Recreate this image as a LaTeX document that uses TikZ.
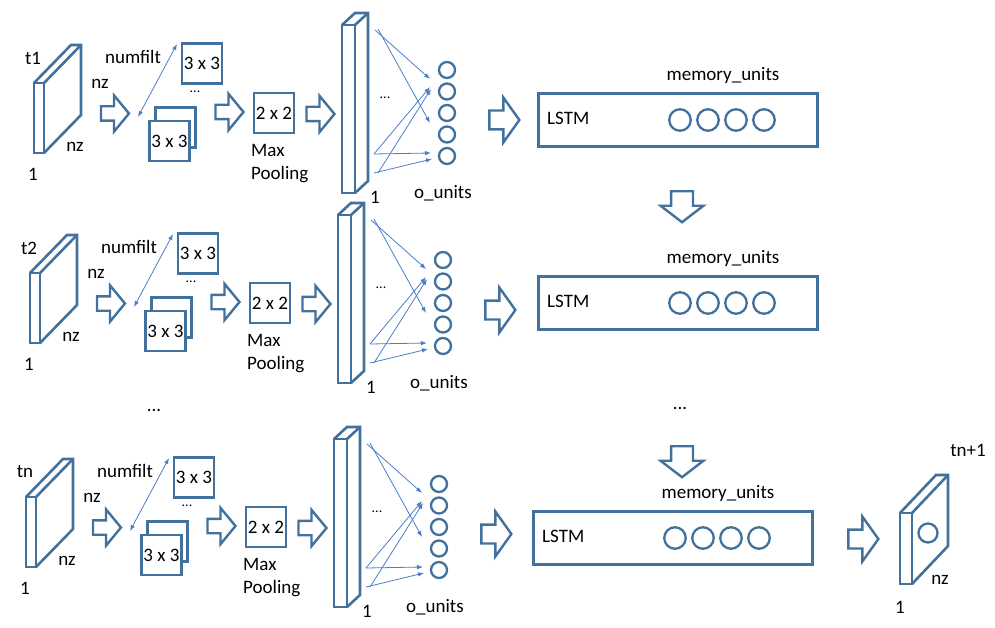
\documentclass[tikz,border=0pt]{standalone}
\usepackage{fontspec}
\setmainfont{Carlito}
\usepackage{tikz}
\usetikzlibrary{shapes.arrows, arrows.meta, positioning}
\definecolor{boxblue}{HTML}{41719C}
\definecolor{linkblue}{HTML}{4A7EC9}
% thin face on the left, deep face going up right
\newcommand{\drawslab}[6]{%
  \draw[slab] (#1,#2) rectangle ++(#3,#4);
  \draw[slab] (#1,#2) -- ++(#5,#6) -- ++(#3,0) -- ++(0,#4) -- ++({-(#5)},{-(#6)});
  \draw[slab] ({#1+#3},#2) -- ++(#5,#6);
}
\tikzset{
  slab/.style={draw=boxblue, line width=2.6pt, line join=miter},
  lbl/.style={font=\fontsize{19}{23}\selectfont, inner sep=0pt},
  tiny/.style={font=\fontsize{14}{16}\selectfont, inner sep=0pt},
  sq/.style={draw=boxblue, line width=2.6pt, fill=white, minimum size=40pt, inner sep=0pt, font=\fontsize{19}{23}\selectfont},
  unit/.style={circle, draw=boxblue, line width=2.3pt, minimum size=16pt, inner sep=0pt},
  mem/.style={circle, draw=boxblue, line width=2.3pt, minimum size=21.5pt, inner sep=0pt},
  cell/.style={draw=boxblue, line width=2.6pt, inner sep=0pt},
  blk/.style={single arrow, draw=boxblue, line width=2.4pt, inner xsep=0pt, inner ysep=6pt, minimum height=28pt, minimum width=34pt, single arrow head extend=11pt, single arrow tip angle=101},
  bigblk/.style={single arrow, draw=boxblue, line width=2.4pt, inner xsep=0pt, inner ysep=8.25pt, minimum height=30pt, minimum width=42.5pt, single arrow head extend=13pt, single arrow tip angle=109},
  downblk/.style={single arrow, draw=boxblue, line width=2.4pt, inner xsep=0pt, inner ysep=9.75pt, minimum height=31pt, minimum width=40.5pt, single arrow head extend=10.5pt, single arrow tip angle=105, rotate=-90},
  link/.style={draw=linkblue, line width=0.8pt, -{Latex[length=6pt,width=4.5pt]}},
}
\begin{document}
\begin{tikzpicture}[x=1pt, y=-1pt]
\useasboundingbox (0,0) rectangle (995,628);
% one row per time step
\foreach \r/\sx/\sy/\t in {1/0/0/t1, 2/-4/190/t2, 3/-8/414/tn}{
  \begin{scope}[shift={(\sx,\sy)}]
    \drawslab{34}{83}{10}{70}{37}{-38}
    \node[lbl] (time\r) at (33,58) {\t};
    \node[lbl] (nzin\r) at (100,84) {nz};
    \node[lbl] (nzfr\r) at (75,147) {nz};
    \node[lbl] (one\r) at (33,174) {1};
    \node[blk] (a1\r) at (112,113.5) {};
    % filters
    \node[lbl] (nf\r) at (133,57) {numfilt};
    \coordinate (nfa\r) at (138,117);
    \coordinate (nfb\r) at (177,44);
    \draw[link, {Latex[length=6pt,width=4.5pt]}-{Latex[length=6pt,width=4.5pt]}] (nfa\r) -- (nfb\r);
    \node[sq] (kt\r) at (202,63.5) {3 x 3};
    \node[tiny] (kd\r) at (195,92) {...};
    \node[sq] (kb\r) at (175.5,127.5) {};
    \node[sq] (kf\r) at (169.5,141) {3 x 3};
    \node[blk] (a2\r) at (226.5,112) {};
    % pooling
    \node[sq] (pool\r) at (274,113) {2 x 2};
    \node[lbl, align=left, anchor=west] (mp\r) at (251,164) {Max\\Pooling};
    \node[blk] (a3\r) at (317.5,114) {};
    % dense layer
    \drawslab{342}{25}{13}{168}{13}{-12}
    \node[tiny] (dd\r) at (385,98) {...};
    \node[lbl] (onec\r) at (375,197) {1};
    \node[lbl] (ou\r) at (443,193) {o\_units};
    \foreach \i in {1,...,5}
      \node[unit] (u\r\i) at (447,{70+(\i-1)*21.5}) {};
    \coordinate (sa\r) at (375,30);
    \coordinate (sb\r) at (378,29);
    \coordinate (sc\r) at (374,154);
    \coordinate (sd\r) at (378,173);
    \coordinate (se\r) at (374,173);
    \coordinate (ta\r) at (430,79);
    \coordinate (tb\r) at (430,123);
    \coordinate (tc\r) at (430,87);
    \coordinate (td\r) at (431,153);
    \coordinate (te\r) at (431,89);
    \coordinate (tf\r) at (432,159);
    \foreach \from/\to in {sa/ta, sb/tb, sc/tc, sc/td, sd/te, se/tf}
      \draw[link] (\from\r) -- (\to\r);
    \node[bigblk] (a4\r) at (501,120) {};
  \end{scope}
}
% lstm cells
\foreach \r/\sx/\sy in {1/0/0, 2/0/183, 3/-5/418}{
  \begin{scope}[shift={(\sx,\sy)}]
    \node[cell, minimum width=279pt, minimum height=53pt] (lstm\r) at (678,120) {};
    \node[lbl, anchor=west] (ltxt\r) at (547,118) {LSTM};
    \node[lbl] (mu\r) at (723,75) {memory\_units};
    \foreach \j in {1,...,4}
      \node[mem] (m\r\j) at ({652+\j*28},120) {};
  \end{scope}
}
\node[downblk] (d1) at (682,202.5) {};
\node[downblk] (d2) at (682,457.5) {};
\node[lbl] (rdots) at (680,408) {...};
\node[lbl] (ldots) at (154,410) {...};
% prediction
\node[bigblk] (fa) at (860,539) {};
\drawslab{900}{513}{12}{71}{36}{-38}
\node[circle, draw=boxblue, line width=2.3pt, minimum size=19pt, inner sep=0pt] (outc) at (928,533) {};
\node[lbl] (tnext) at (968,450) {tn+1};
\node[lbl] (nzo) at (940,580) {nz};
\node[lbl] (oneo) at (900,607) {1};
\end{tikzpicture}
\end{document}
